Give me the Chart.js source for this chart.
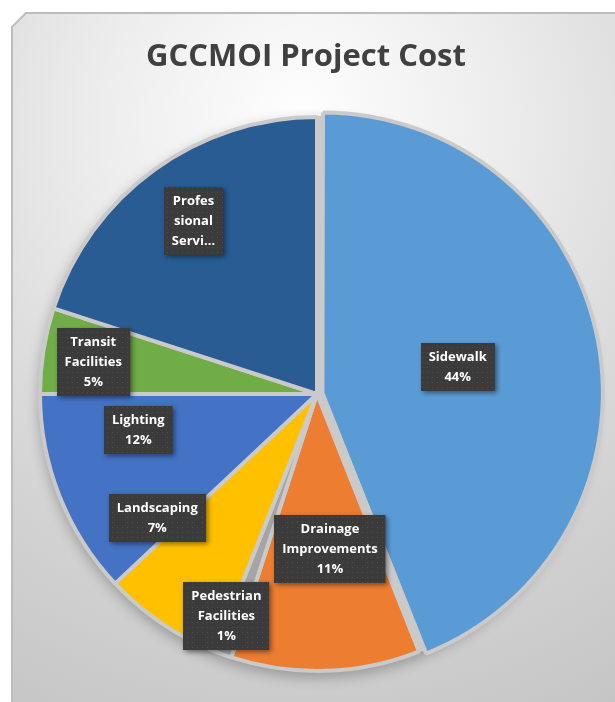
<!DOCTYPE html>
<html>
<head>
<meta charset="utf-8">
<script src="https://cdn.jsdelivr.net/npm/chart.js@4.4.1/dist/chart.umd.min.js"></script>
<style>
  html, body { margin: 0; padding: 0; background: #ffffff; }
  #wrap { width: 615px; height: 702px; position: relative; }
  canvas { display: block; }
</style>
</head>
<body>
<div id="wrap"><canvas id="chart" width="615" height="702"></canvas></div>
<script>
// ---- data ----
const chartTitle = 'GCCMOI Project Cost';
const categories = ['Sidewalk', 'Drainage Improvements', 'Pedestrian Facilities', 'Landscaping', 'Lighting', 'Transit Facilities', 'Professional Services'];
const values = [44, 11, 1, 7, 12, 5, 20];
// text lines shown in each data label (Excel wraps / truncates names)
const labelLines = [['Sidewalk'], ['Drainage', 'Improvements'], ['Pedestrian', 'Facilities'], ['Landscaping'], ['Lighting'], ['Transit', 'Facilities'], ['Profes', 'sional', 'Servi…']];
const showPercent = [true, true, true, true, true, true, false];

// ---- styles ----
const sliceColors = ['#5B9BD5', '#ED7D31', '#A5A5A5', '#FFC000', '#4472C4', '#70AD47', '#285C92'];
const sliceOffsets = [22, 0, 0, 0, 0, 0, 0];
// label placement: [fraction of radius, angle shift in degrees (clockwise)]
const labelPlacement = [[0.517, 0], [0.56, -3], [0.866, 2.4], [0.73, 18], [0.658, 10.2], [0.816, -0.8], [0.766, 0.4]];

const total = values.reduce((a, b) => a + b, 0);

function makePattern(ctx) {
  const c = document.createElement('canvas');
  c.width = 5; c.height = 5;
  const p = c.getContext('2d');
  p.fillStyle = '#3b3b3b';
  p.fillRect(0, 0, 5, 5);
  p.fillStyle = '#4e4e4e';
  p.fillRect(2, 2, 1, 1);
  return ctx.createPattern(c, 'repeat');
}

const backgroundPlugin = {
  id: 'bgFrame',
  beforeDraw(chart) {
    const { ctx, width, height } = chart;
    ctx.save();
    ctx.fillStyle = '#ffffff';
    ctx.fillRect(0, 0, width, height);
    ctx.beginPath();
    ctx.moveTo(12, 27);
    ctx.lineTo(26, 13);
    ctx.lineTo(width + 2, 13);
    ctx.lineTo(width + 2, height + 2);
    ctx.lineTo(12, height + 2);
    ctx.closePath();
    const g = ctx.createRadialGradient(300, 110, 10, 300, 150, 640);
    g.addColorStop(0, '#fdfdfd');
    g.addColorStop(0.3, '#ededed');
    g.addColorStop(0.7, '#d3d3d3');
    g.addColorStop(1, '#c5c5c5');
    ctx.fillStyle = g;
    ctx.fill();
    ctx.strokeStyle = '#bcbcbc';
    ctx.lineWidth = 2;
    ctx.stroke();
    // chart title
    ctx.fillStyle = '#404040';
    ctx.font = 'bold 31px "Open Sans"';
    ctx.textAlign = 'center';
    ctx.textBaseline = 'middle';
    ctx.fillText(chartTitle, 306, 57);
    ctx.restore();
  },
  beforeDatasetsDraw(chart) {
    const meta = chart.getDatasetMeta(0);
    const arc = meta.data[0];
    if (!arc) return;
    const { ctx } = chart;
    ctx.save();
    ctx.beginPath();
    ctx.arc(arc.x, arc.y, arc.outerRadius + 1, 0, Math.PI * 2);
    ctx.shadowColor = 'rgba(0,0,0,0.28)';
    ctx.shadowBlur = 14;
    ctx.shadowOffsetY = 5;
    ctx.fillStyle = '#cacaca';
    ctx.fill();
    ctx.restore();
  }
};

const labelPlugin = {
  id: 'boxLabels',
  afterDatasetsDraw(chart) {
    const { ctx } = chart;
    const meta = chart.getDatasetMeta(0);
    const pattern = makePattern(ctx);
    const lineH = 20;
    const padX = 8, padY = 4;
    ctx.save();
    ctx.font = 'bold 13px "Open Sans"';
    ctx.textAlign = 'center';
    ctx.textBaseline = 'middle';
    meta.data.forEach((arc, i) => {
      const mid = (arc.startAngle + arc.endAngle) / 2;
      const [fr, dDeg] = labelPlacement[i];
      const a = mid + dDeg * Math.PI / 180;
      const px = arc.x + Math.cos(a) * fr * arc.outerRadius;
      const py = arc.y + Math.sin(a) * fr * arc.outerRadius;
      const lines = labelLines[i].slice();
      if (showPercent[i]) lines.push(Math.round(values[i] / total * 100) + '%');
      const w = Math.max(...lines.map(l => ctx.measureText(l).width)) + padX * 2;
      const h = lines.length * lineH + padY * 2;
      const bx = Math.round(px - w / 2), by = Math.round(py - h / 2);
      ctx.save();
      ctx.shadowColor = 'rgba(0,0,0,0.45)';
      ctx.shadowBlur = 5;
      ctx.shadowOffsetX = 2;
      ctx.shadowOffsetY = 2;
      ctx.fillStyle = pattern;
      ctx.fillRect(bx, by, w, h);
      ctx.restore();
      ctx.fillStyle = '#ffffff';
      lines.forEach((l, k) => {
        ctx.fillText(l, px, by + padY + lineH * (k + 0.5) + 0.5);
      });
    });
    ctx.restore();
  }
};

new Chart(document.getElementById('chart'), {
  type: 'pie',
  data: {
    labels: categories,
    datasets: [{
      data: values,
      backgroundColor: sliceColors,
      borderColor: '#cacaca',
      borderWidth: 4,
      offset: sliceOffsets,
      radius: 277
    }]
  },
  options: {
    responsive: false,
    animation: false,
    devicePixelRatio: 1,
    layout: { padding: { left: 33, right: 14, top: 110, bottom: 24 } },
    plugins: {
      legend: { display: false },
      tooltip: { enabled: false },
      title: { display: false }
    }
  },
  plugins: [backgroundPlugin, labelPlugin]
});
</script>
</body>
</html>
